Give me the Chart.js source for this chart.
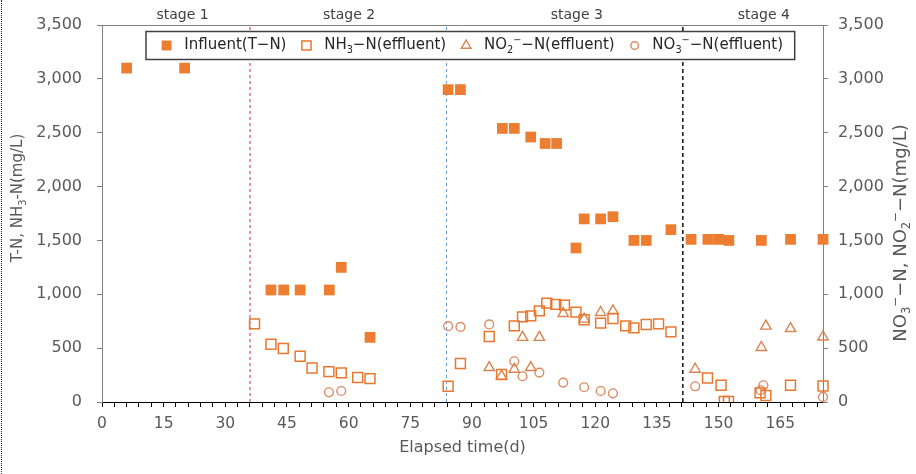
<!DOCTYPE html>
<html>
<head>
<meta charset="utf-8">
<script src="https://cdn.jsdelivr.net/npm/chart.js@4.4.0/dist/chart.umd.min.js"></script>
<style>
  html, body { margin: 0; padding: 0; background: #fff; }
  #wrap { position: relative; width: 916px; height: 474px; }
  #edge { position: absolute; left: 1px; top: 0; height: 474px; border-left: 1px dotted #222; }
</style>
</head>
<body>
<div id="wrap">
  <canvas id="myChart" width="916" height="474"></canvas>
  <div id="edge"></div>
</div>
<script>
// data (days, mg/L)
const tnDays = [6.0, 20.1, 41.1, 44.2, 48.2, 55.3, 58.2, 65.2, 84.2, 87.2, 97.4, 100.3, 104.3, 107.8, 110.6, 115.3, 117.3, 121.3, 124.3, 129.4, 132.4, 138.4, 143.3, 147.4, 150.0, 152.5, 160.4, 167.5, 175.4];
const tnValues = [3100, 3100, 1040, 1040, 1040, 1040, 1250, 600, 2900, 2900, 2540, 2540, 2460, 2400, 2400, 1430, 1700, 1700, 1720, 1500, 1500, 1600, 1510, 1510, 1510, 1500, 1500, 1510, 1510];

const nh3Days = [37.1, 41.1, 44.1, 48.2, 51.1, 55.2, 58.2, 62.2, 65.2, 84.2, 87.2, 94.2, 97.2, 100.3, 102.3, 104.3, 106.4, 108.2, 110.4, 112.5, 115.3, 117.3, 121.3, 124.3, 127.4, 129.4, 132.4, 135.4, 138.4, 147.3, 150.6, 151.4, 152.4, 160.1, 161.5, 167.5, 175.4];
const nh3Values = [725, 536, 496, 425, 316, 282, 270, 227, 217, 146, 357, 608, 255, 707, 790, 800, 846, 918, 906, 899, 834, 763, 732, 775, 707, 688, 720, 725, 651, 223, 155, 5, 5, 85, 60, 155, 149];

const no2Days = [94.2, 97.2, 100.3, 102.3, 104.3, 106.4, 112.2, 117.3, 121.3, 124.3, 144.3, 160.4, 161.5, 167.5, 175.4];
const no2Values = [320, 240, 304, 600, 320, 600, 822, 769, 831, 846, 304, 506, 704, 682, 604];

const no3Days = [55.2, 58.2, 84.2, 87.2, 94.2, 100.3, 102.3, 106.4, 112.2, 117.3, 121.3, 124.3, 144.3, 160.2, 160.9, 175.4];
const no3Values = [90, 102, 704, 697, 720, 378, 239, 273, 180, 137, 102, 81, 146, 109, 155, 47];

// stage boundaries and stage names
const stageBounds = [36.0, 83.8, 141.3];
const stageNames = ['stage 1', 'stage 2', 'stage 3', 'stage 4'];
const stageNameDays = [19.6, 60.1, 115.5, 161.0];

// series labels: _x = subscript, ^x = superscript
const seriesLabels = ['Influent(T\u2212N)', 'NH_3\u2212N(effluent)', 'NO_2^\u2212\u2212N(effluent)', 'NO_3^\u2212\u2212N(effluent)'];
const leftTitle = 'T-N, NH_3-N(mg/L)';
const rightTitle = 'NO_3^\u2212\u2212N, NO_2^\u2212\u2212N(mg/L)';
const xTitle = 'Elapsed time(d)';

const xMax = 175.4;
const yMax = 3500;

const FONT = 'DejaVu Sans';
const textGray = '#595959';

function toPoints(xs, ys) {
  return xs.map((x, i) => ({ x: x, y: ys[i] }));
}

function parseRich(str) {
  const parts = [];
  let buf = '';
  for (let i = 0; i < str.length; i++) {
    const c = str[i];
    if (c === '_' || c === '^') {
      if (buf) parts.push({ t: buf, m: '' });
      buf = '';
      parts.push({ t: str[++i], m: c });
    } else {
      buf += c;
    }
  }
  if (buf) parts.push({ t: buf, m: '' });
  return parts;
}

function richWidth(ctx, str, size) {
  let w = 0;
  for (const p of parseRich(str)) {
    ctx.font = (p.m ? size * 0.65 : size) + 'px "' + FONT + '"';
    w += ctx.measureText(p.t).width;
  }
  return w;
}

function drawRich(ctx, str, x, y, size, color) {
  ctx.fillStyle = color;
  ctx.textBaseline = 'middle';
  ctx.textAlign = 'left';
  for (const p of parseRich(str)) {
    ctx.font = (p.m ? size * 0.65 : size) + 'px "' + FONT + '"';
    let dy = 0;
    if (p.m === '_') dy = size * 0.32;
    if (p.m === '^') dy = -size * 0.33;
    ctx.fillText(p.t, x, y + dy);
    x += ctx.measureText(p.t).width;
  }
}

const extras = {
  id: 'extras',
  afterDraw(chart) {
    const { ctx, chartArea: a, scales } = chart;
    ctx.save();

    // top border of the plot
    ctx.strokeStyle = '#7f7f7f';
    ctx.lineWidth = 1;
    ctx.beginPath();
    ctx.moveTo(a.left, Math.round(a.top) + 0.5);
    ctx.lineTo(a.right, Math.round(a.top) + 0.5);
    ctx.stroke();

    // stage names
    ctx.fillStyle = '#404040';
    ctx.font = '14px "' + FONT + '"';
    ctx.textAlign = 'center';
    ctx.textBaseline = 'middle';
    stageNames.forEach((s, i) => {
      ctx.fillText(s, scales.x.getPixelForValue(stageNameDays[i]), 15);
    });

    // legend
    const lsize = 15;
    const sets = chart.data.datasets.filter(d => d.legendText);
    const widths = sets.map(d => richWidth(ctx, d.legendText, lsize));
    const boxLeft = a.left + 44;
    const boxTop = a.top + 6.5;
    const boxH = 28;
    const cy = boxTop + boxH / 2;
    let mx = boxLeft + 20.6;
    const pos = [];
    sets.forEach((d, i) => {
      pos.push(mx);
      mx = mx + 17.7 + widths[i] + 20;
    });
    const boxRight = pos[pos.length - 1] + 17.7 + widths[widths.length - 1] + 11.6;
    ctx.fillStyle = '#fff';
    ctx.fillRect(boxLeft, boxTop, boxRight - boxLeft, boxH);
    ctx.strokeStyle = '#404040';
    ctx.lineWidth = 1.5;
    ctx.strokeRect(boxLeft, boxTop, boxRight - boxLeft, boxH);
    sets.forEach((d, i) => {
      ctx.fillStyle = d.backgroundColor;
      ctx.strokeStyle = d.borderColor;
      ctx.lineWidth = d.pointBorderWidth || 0;
      Chart.helpers.drawPoint(ctx, {
        pointStyle: d.pointStyle,
        radius: d.legendRadius,
        rotation: 0,
        borderWidth: d.pointBorderWidth || 0
      }, pos[i], cy);
      drawRich(ctx, d.legendText, pos[i] + 17.7, cy, lsize, '#262626');
    });

    // axis titles
    ctx.fillStyle = textGray;
    ctx.font = '16px "' + FONT + '"';
    ctx.textAlign = 'center';
    ctx.textBaseline = 'middle';
    ctx.fillText(xTitle, (a.left + a.right) / 2, 448);

    const ls = 15;
    const lw = richWidth(ctx, leftTitle, ls);
    ctx.save();
    ctx.translate(18.5, 198);
    ctx.rotate(-Math.PI / 2);
    drawRich(ctx, leftTitle, -lw / 2, 0, ls, textGray);
    ctx.restore();

    const rs = 18;
    const rw = richWidth(ctx, rightTitle, rs);
    ctx.save();
    ctx.translate(901.5, 233);
    ctx.rotate(-Math.PI / 2);
    drawRich(ctx, rightTitle, -rw / 2, 0, rs, textGray);
    ctx.restore();

    ctx.restore();
  }
};

const pointClip = { left: 20, top: 20, right: 20, bottom: 0 };

function boundary(day, color, dash, width) {
  return {
    data: [{ x: day, y: 0 }, { x: day, y: yMax }],
    showLine: true,
    borderColor: color,
    borderDash: dash,
    borderWidth: width,
    pointRadius: 0,
    yAxisID: 'y'
  };
}

const datasets = [
  {
    legendText: seriesLabels[0],
    data: toPoints(tnDays, tnValues),
    pointStyle: 'rect',
    pointRadius: 7.6,
    legendRadius: 7,
    backgroundColor: '#ED7D31',
    borderColor: '#ED7D31',
    pointBorderWidth: 0,
    clip: pointClip,
    yAxisID: 'y'
  },
  {
    legendText: seriesLabels[1],
    data: toPoints(nh3Days, nh3Values),
    pointStyle: 'rect',
    pointRadius: 7,
    legendRadius: 6.5,
    backgroundColor: 'rgba(0,0,0,0)',
    borderColor: '#E9772F',
    pointBorderWidth: 1.5,
    clip: pointClip,
    yAxisID: 'y'
  },
  {
    legendText: seriesLabels[2],
    data: toPoints(no2Days, no2Values),
    pointStyle: 'triangle',
    pointRadius: 6,
    legendRadius: 5.5,
    backgroundColor: 'rgba(0,0,0,0)',
    borderColor: '#D98452',
    pointBorderWidth: 1.4,
    clip: pointClip,
    yAxisID: 'y2'
  },
  {
    legendText: seriesLabels[3],
    data: toPoints(no3Days, no3Values),
    pointStyle: 'circle',
    pointRadius: 4.4,
    legendRadius: 3.8,
    backgroundColor: 'rgba(0,0,0,0)',
    borderColor: '#DD8B62',
    pointBorderWidth: 1.4,
    clip: pointClip,
    yAxisID: 'y2'
  },
  boundary(stageBounds[0], '#C8324A', [3, 3], 1),
  boundary(stageBounds[1], '#6A9BD8', [3, 3], 1),
  boundary(stageBounds[2], '#111111', [4, 3], 1.5)
];

const yTicks = {
  stepSize: 500,
  color: textGray,
  font: { family: FONT, size: 16 },
  callback: v => v.toLocaleString('en-US')
};

const ctx = document.getElementById('myChart').getContext('2d');
const chart = new Chart(ctx, {
  type: 'scatter',
  data: { datasets: datasets },
  options: {
    responsive: false,
    animation: false,
    devicePixelRatio: 1,
    layout: { padding: { top: 25, left: 0, right: 0, bottom: 0 } },
    plugins: {
      legend: { display: false },
      tooltip: { enabled: false }
    },
    scales: {
      x: {
        type: 'linear',
        min: 0,
        max: xMax,
        afterFit: s => { s.height = 72; },
        ticks: {
          stepSize: 3,
          autoSkip: false,
          maxRotation: 0,
          includeBounds: false,
          padding: 8,
          color: textGray,
          font: { family: FONT, size: 15.5 },
          callback: v => Math.round(v) % 15 === 0 ? Math.round(v) : ''
        },
        grid: { drawOnChartArea: false, tickLength: 5, color: '#000' },
        border: { color: '#000', width: 1 }
      },
      y: {
        position: 'left',
        min: 0,
        max: yMax,
        afterFit: s => { s.width = 102; },
        ticks: Object.assign({}, yTicks, { padding: 15 }),
        grid: { drawOnChartArea: false, tickLength: 5, color: '#7f7f7f' },
        border: { color: '#7f7f7f', width: 1 }
      },
      y2: {
        position: 'right',
        min: 0,
        max: yMax,
        afterFit: s => { s.width = 93; },
        ticks: Object.assign({}, yTicks, { padding: 10 }),
        grid: { drawOnChartArea: false, tickLength: 5, color: '#7f7f7f' },
        border: { color: '#7f7f7f', width: 1 }
      }
    }
  },
  plugins: [extras]
});
</script>
</body>
</html>
